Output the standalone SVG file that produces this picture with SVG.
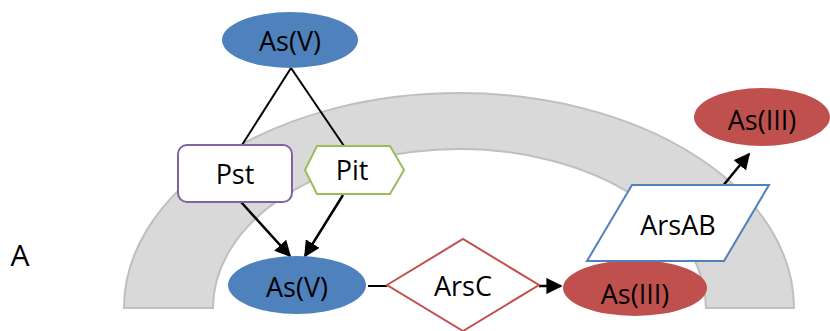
<svg xmlns="http://www.w3.org/2000/svg" width="830" height="331" viewBox="0 0 830 331">
<defs>
<style>
text{font-family:"Open Sans","Liberation Sans",sans-serif;font-size:27px;fill:#000;text-anchor:middle;dominant-baseline:central}
.blue{fill:#4f81bd}
.red{fill:#c0504d}
.ln{stroke:#000;stroke-width:2;fill:none}
.ar{stroke:#000;stroke-width:2.5;fill:none;marker-end:url(#ah)}
</style>
<marker id="ah" viewBox="0 0 10 10" refX="9" refY="5" markerWidth="6.5" markerHeight="6.5" orient="auto" markerUnits="strokeWidth">
<path d="M0,0 L10,5 L0,10 z" fill="#000"/>
</marker>
</defs>
<rect width="830" height="331" fill="#fff"/>
<g id="membrane">
<path d="M124,308 A335,215 0 0 1 794,308 L706,308 A246.5,159 0 0 0 213,308 Z" fill="#d9d9d9" stroke="#bfbfbf" stroke-width="2"/>
</g>
<text x="20" y="254" style="font-size:30px">A</text>
<g id="connectors">
<line class="ln" x1="291" y1="68" x2="242" y2="145"/>
<line class="ln" x1="291" y1="68" x2="344" y2="146"/>
<line class="ar" x1="241" y1="202" x2="290" y2="256"/>
<line class="ar" x1="343" y1="195" x2="305" y2="256"/>
<line class="ln" x1="368" y1="286" x2="387" y2="286"/>
<line class="ar" x1="539" y1="286" x2="561" y2="286"/>
<line class="ar" x1="722" y1="187" x2="749" y2="154"/>
</g>
<g id="asv_top">
<ellipse class="blue" cx="290" cy="40" rx="68" ry="28"/>
<text x="290" y="40">As(V)</text>
</g>
<g id="pst">
<rect x="178" y="145" width="114" height="57" rx="9" fill="#fff" stroke="#8064a2" stroke-width="2"/>
<text x="235" y="173">Pst</text>
</g>
<g id="pit">
<polygon points="305,170 317,146 390,146 404,170 390,194 317,194" fill="#fff" stroke="#9bbb59" stroke-width="2"/>
<text x="352" y="169">Pit</text>
</g>
<g id="asv_bottom">
<ellipse class="blue" cx="297" cy="285" rx="69" ry="29"/>
<text x="297" y="286">As(V)</text>
</g>
<g id="arsc">
<polygon points="387,285 463,239 539,285 463,331" fill="#fff" stroke="#c0504d" stroke-width="2"/>
<text x="463" y="285">ArsC</text>
</g>
<g id="asiii_bottom">
<ellipse class="red" cx="635" cy="288" rx="72" ry="28"/>
</g>
<g id="arsab">
<polygon points="632,185 769,185 724,261 587,261" fill="#fff" stroke="#4f81bd" stroke-width="2"/>
<text x="678" y="224">ArsAB</text>
</g>
<g id="asiii_bottom_label">
<text x="635" y="293">As(III)</text>
</g>
<g id="asiii_top">
<ellipse class="red" cx="762" cy="117" rx="68" ry="29"/>
<text x="762" y="119">As(III)</text>
</g>
</svg>
